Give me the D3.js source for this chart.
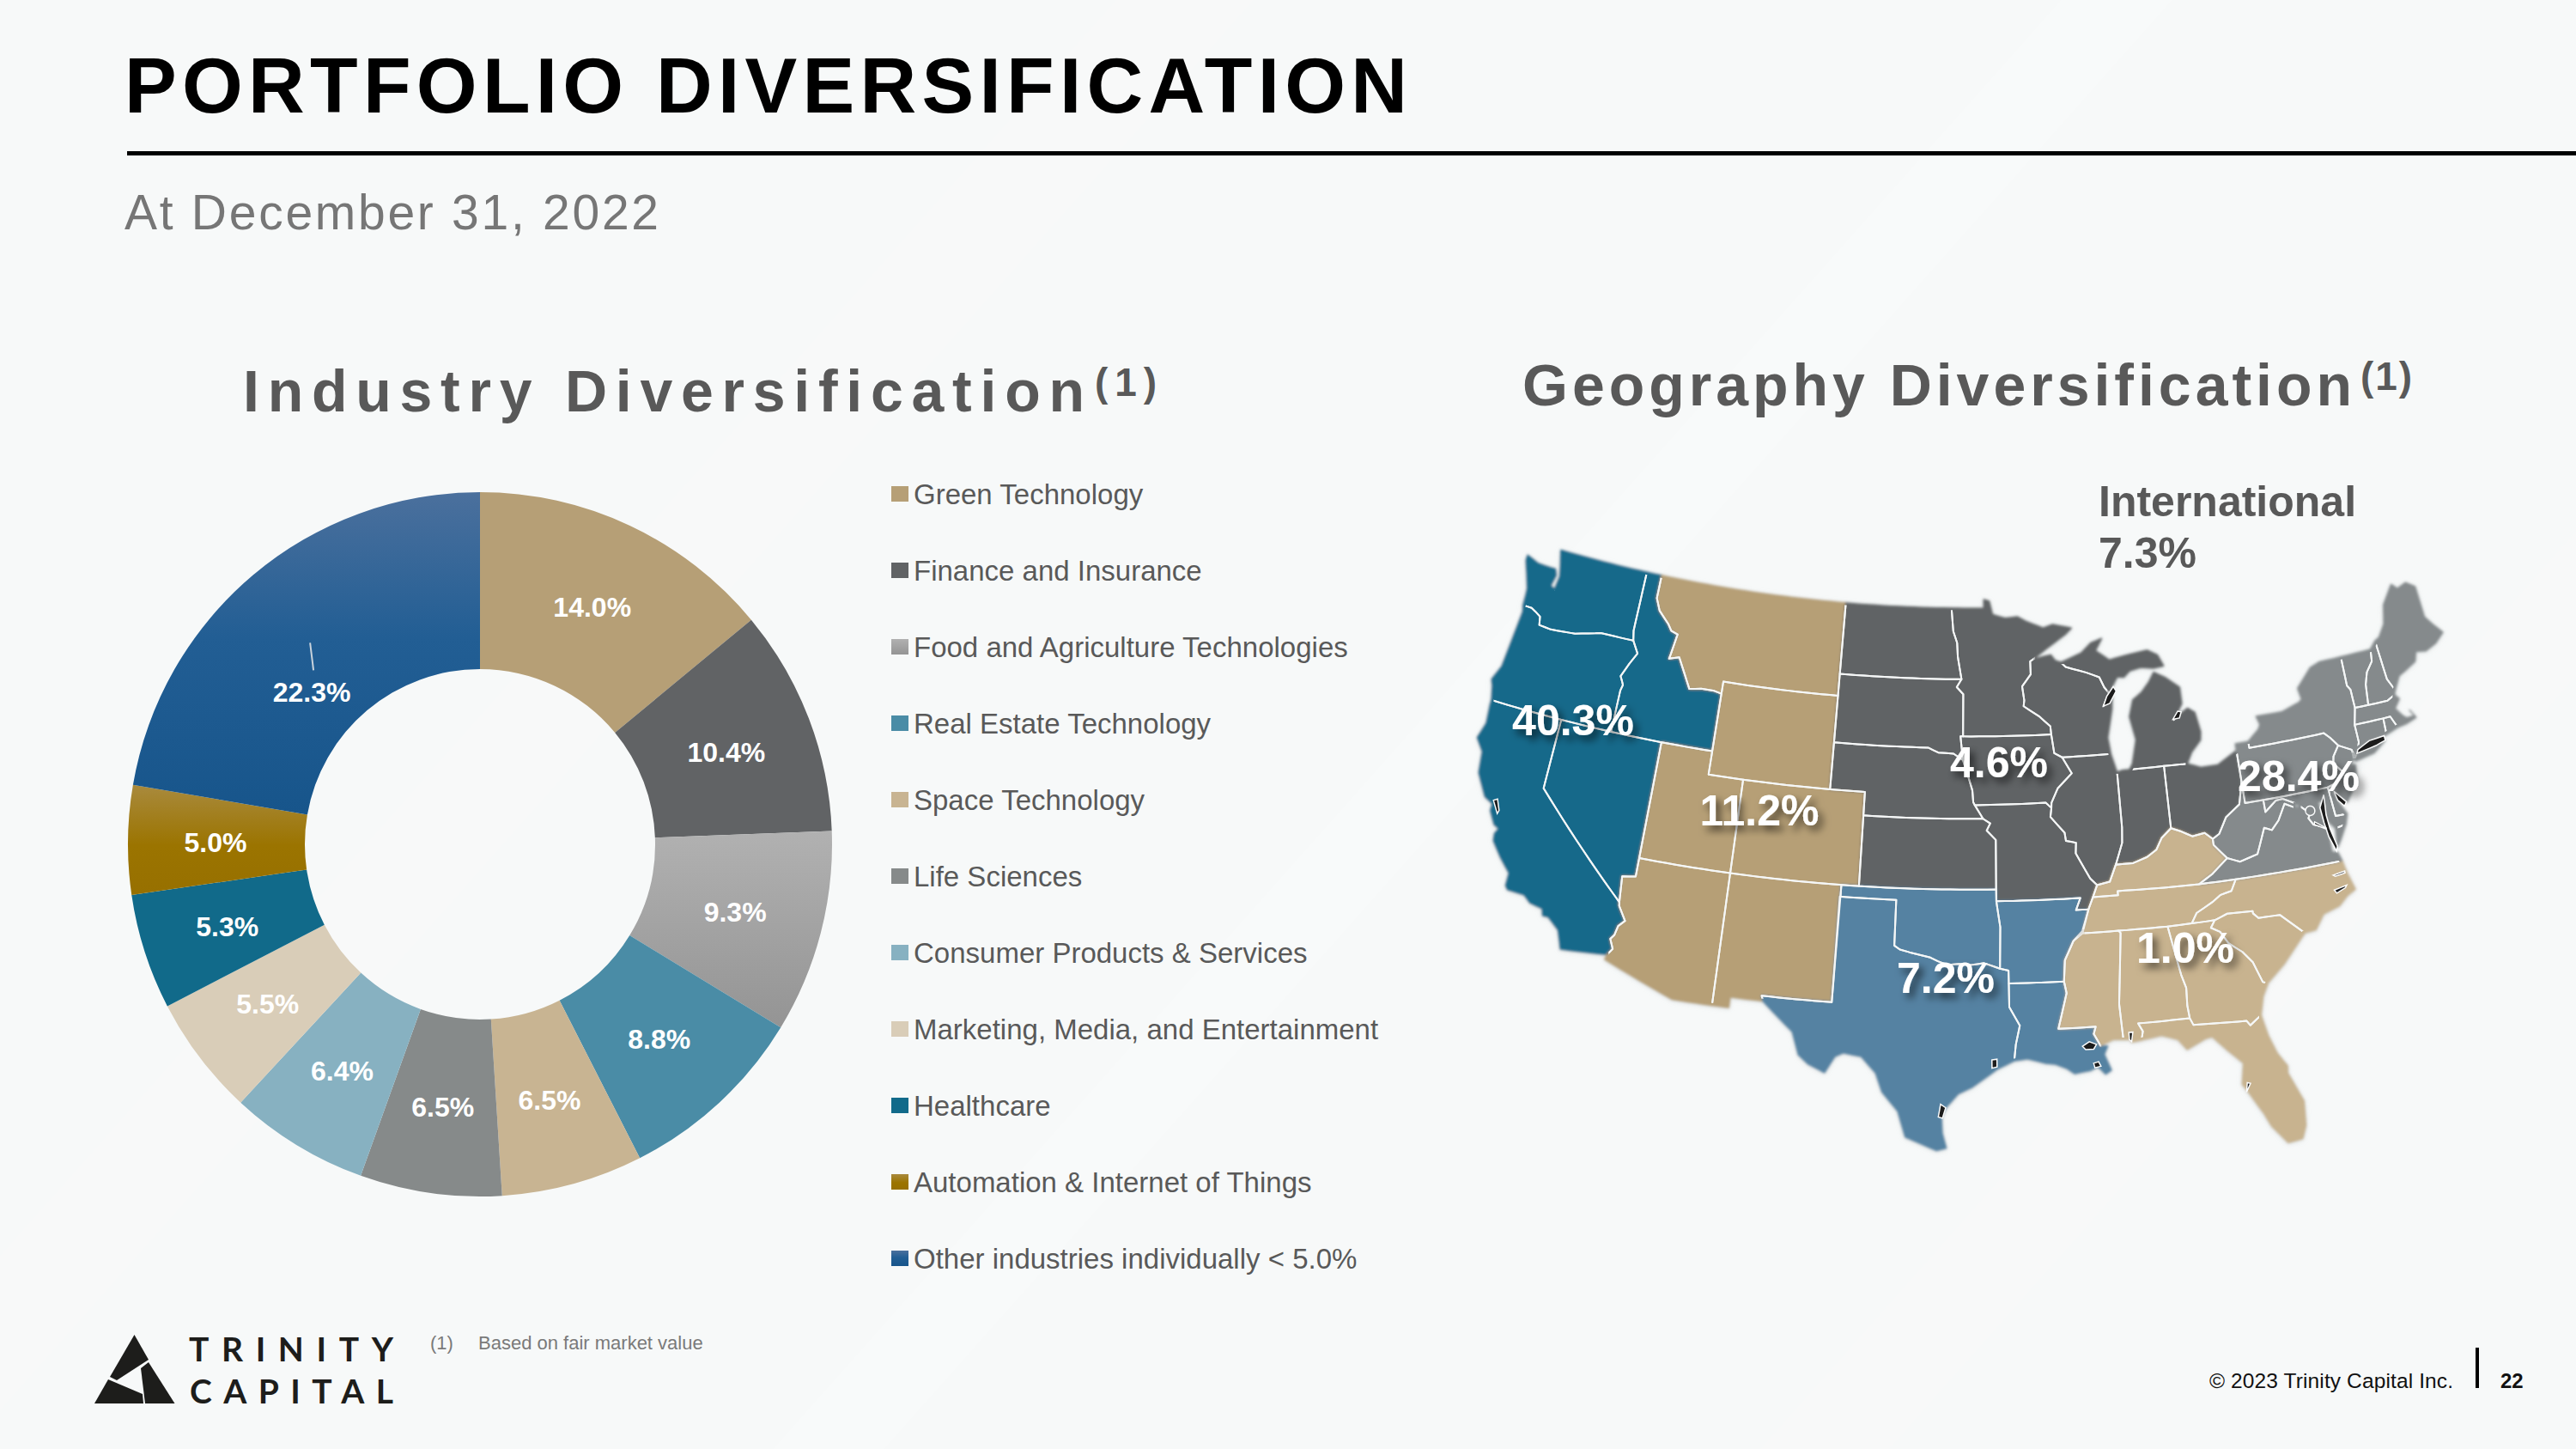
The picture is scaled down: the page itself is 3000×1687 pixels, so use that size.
<!DOCTYPE html>
<html>
<head>
<meta charset="utf-8">
<title>Portfolio Diversification</title>
<script src="https://cdn.jsdelivr.net/npm/d3@7/dist/d3.min.js"></script>
<style>
  html, body { margin: 0; padding: 0; background: #f7f9f9; }
  svg { display: block; font-family: "Liberation Sans", Arial, sans-serif; }
</style>
</head>
<body>
<svg id="slide" width="3000" height="1687"></svg>
<script>
// ---------- Industry breakdown ----------
const industries = ["Green Technology", "Finance and Insurance", "Food and Agriculture Technologies",
  "Real Estate Technology", "Space Technology", "Life Sciences", "Consumer Products & Services",
  "Marketing, Media, and Entertainment", "Healthcare", "Automation & Internet of Things",
  "Other industries individually < 5.0%"];
const industryShares = [14.0, 10.4, 9.3, 8.8, 6.5, 6.5, 6.4, 5.5, 5.3, 5.0, 22.3];
const industryColors = ["#b69f76", "#616365", "url(#fadeGrey)", "#4a8ca6", "#c8b492", "#868a8a",
  "#87b1c1", "#d9cdb8", "#116a8a", "url(#fadeOchre)", "url(#fadeBlue)"];
// Hand placement of a few slice labels, relative to the ring's centre line
const labelNudgeX = [0, 0, 0, 0, 0, 0, -1, -3, -2, -1, 2];
const labelNudgeY = [0, 0, 0, 0, 0, 0, 0, -2, 0, 0, 56];

// ---------- Geography breakdown ----------
const regionNames = ["West", "Mountain", "Midwest", "South Central", "Southeast", "Northeast"];
const regionShares = [40.3, 11.2, 4.6, 7.2, 1.0, 28.4];
const regionColors = ["#17698a", "#b69f76", "#616365", "#5482a2", "#c8b38f", "#858a8c"];
const regionStates = [
  ["WA", "OR", "CA", "ID", "NV"],
  ["MT", "WY", "UT", "CO", "AZ", "NM"],
  ["ND", "SD", "NE", "KS", "MN", "IA", "MO", "WI", "IL", "MI", "UP", "IN", "OH"],
  ["TX", "OK", "AR", "LA"],
  ["KY", "TN", "MS", "AL", "GA", "FL", "SC", "NC"],
  ["PA", "NY", "LI", "VT", "NH", "ME", "MA", "CT", "RI", "NJ", "DE", "MD", "VA", "ES", "WV"]
];
// Centre and baseline of each regional percentage on the slide
const regionLabelX = [1832, 2049, 2328, 2266, 2545, 2677];
const regionLabelY = [856, 961, 905, 1156, 1121, 921];
const internationalShare = 7.3;

// State outlines, longitude latitude pairs
const stateOutlines = {
  WA: "-124.7 48.38,-123.9 48.17,-123.1 48.15,-122.75 48.15,-122.6 47.9,-122.75 47.4,-122.45 47.3,-122.35 47.9,-122.5 48.35,-122.75 49,-117.03 49,-117.04 46.42,-116.92 46,-118.98 46,-119.3 45.93,-120.5 45.7,-121.2 45.65,-122 45.6,-122.75 45.65,-122.85 46,-123.2 46.15,-123.5 46.26,-124.05 46.27,-124.07 46.7,-124.1 47,-124.4 47.6,-124.7 48.15",
  OR: "-124.05 46.27,-123.5 46.26,-123.2 46.15,-122.85 46,-122.75 45.65,-122 45.6,-121.2 45.65,-120.5 45.7,-119.3 45.93,-118.98 46,-116.92 46,-116.5 45.5,-116.85 45,-117.2 44.4,-117.05 44.2,-116.95 44.05,-117.03 43.8,-117.03 42,-124.2 42,-124.4 42.6,-124.55 42.85,-124.2 43.5,-124.1 44.5,-124 45.5,-123.95 46",
  CA: "-124.2 42,-120 42,-120 39,-114.63 35,-114.6 34.85,-114.15 34.27,-114.45 34,-114.55 33.6,-114.72 33.4,-114.5 33,-114.72 32.72,-117.12 32.53,-117.25 32.85,-117.45 33.3,-118.1 33.75,-118.4 33.75,-118.5 34.03,-119.2 34.15,-119.6 34.42,-120.5 34.45,-120.65 34.6,-120.65 35.15,-121.3 35.7,-121.9 36.3,-121.95 36.6,-121.8 36.85,-122.1 36.97,-122.5 37.5,-122.5 37.8,-123 38,-123.7 38.9,-123.85 39.8,-124.35 40.3,-124.1 41,-124.2 41.8",
  NV: "-120 42,-114.04 42,-114.04 36.2,-114.75 36.1,-114.63 35,-120 39",
  ID: "-117.03 49,-116.05 49,-116.05 48,-115.72 47.5,-115 47,-114.75 46.75,-114.32 46.65,-114.5 45.75,-114.55 45.56,-113.95 45.7,-113.45 45.05,-113 44.45,-112.3 44.55,-111.5 44.55,-111.05 44.48,-111.05 42,-117.03 42,-117.03 43.8,-116.95 44.05,-117.05 44.2,-117.2 44.4,-116.85 45,-116.5 45.5,-116.92 46,-117.04 46.42",
  MT: "-116.05 49,-104.05 49,-104.05 45,-111.05 45,-111.05 44.48,-111.5 44.55,-112.3 44.55,-113 44.45,-113.45 45.05,-113.95 45.7,-114.55 45.56,-114.5 45.75,-114.32 46.65,-114.75 46.75,-115 47,-115.72 47.5,-116.05 48",
  WY: "-111.05 45,-104.05 45,-104.05 41,-111.05 41",
  UT: "-114.04 42,-111.05 42,-111.05 41,-109.05 41,-109.05 37,-114.04 37",
  CO: "-109.05 41,-102.05 41,-102.05 37,-109.05 37",
  AZ: "-114.04 37,-109.05 37,-109.05 31.33,-111.07 31.33,-114.8 32.5,-114.72 32.72,-114.5 33,-114.72 33.4,-114.55 33.6,-114.45 34,-114.15 34.27,-114.6 34.85,-114.63 35,-114.75 36.1,-114.04 36.2",
  NM: "-109.05 37,-103 37,-103.05 32,-106.62 32,-106.53 31.78,-108.2 31.78,-108.2 31.33,-109.05 31.33",
  ND: "-104.05 49,-97.23 49,-97.1 48,-96.85 47.5,-96.8 46.9,-96.56 45.94,-104.05 45.94",
  SD: "-104.05 45.94,-96.56 45.94,-96.85 45.6,-96.45 45.3,-96.45 43.5,-96.6 43.5,-96.45 42.49,-97 42.76,-97.9 42.8,-98.5 43,-104.05 43",
  NE: "-104.05 43,-98.5 43,-97.9 42.8,-97 42.76,-96.45 42.49,-96.1 41.7,-95.9 41.2,-95.85 40.7,-95.3 40,-102.05 40,-102.05 41,-104.05 41",
  KS: "-102.05 40,-95.3 40,-94.9 39.8,-95.1 39.5,-94.6 39.1,-94.62 37,-102.05 37",
  OK: "-103 37,-94.62 37,-94.62 36.5,-94.43 35.4,-94.48 33.64,-95.3 33.88,-96 33.8,-96.6 33.85,-97.2 33.8,-97.7 33.95,-98.1 34.1,-99.2 34.3,-99.7 34.4,-100 34.56,-100 36.5,-103 36.5",
  TX: "-103.04 36.5,-100 36.5,-100 34.56,-99.7 34.4,-99.2 34.3,-98.1 34.1,-97.7 33.95,-97.2 33.8,-96.6 33.85,-96 33.8,-95.3 33.88,-94.48 33.64,-94.04 33.55,-94.04 33,-94.04 32,-93.53 31.2,-93.75 30.4,-93.85 29.7,-94.7 29.35,-95.1 29.1,-95.9 28.6,-96.6 28.3,-97.2 27.7,-97.4 27.3,-97.35 26.6,-97.15 25.96,-97.6 25.85,-98.2 26.07,-99.1 26.4,-99.5 27.5,-100.3 28.3,-100.65 29.1,-101.4 29.77,-102.3 29.88,-102.7 29.7,-103.15 28.98,-104 29.3,-104.5 29.65,-104.9 30.6,-106.53 31.78,-106.62 32,-103.05 32",
  MN: "-97.23 49,-95.15 49,-95.15 49.38,-94.8 49.3,-94.6 48.72,-93.8 48.55,-93 48.6,-92.5 48.4,-91.4 48.07,-90.8 48.2,-89.6 48,-90 47.75,-91.2 47.2,-92.1 46.75,-92.3 46.66,-92.3 46.1,-92.85 45.6,-92.75 45,-92.8 44.75,-91.9 44.3,-91.25 43.85,-91.22 43.5,-96.45 43.5,-96.45 45.3,-96.85 45.6,-96.56 45.94,-96.8 46.9,-96.85 47.5,-97.1 48",
  IA: "-96.45 43.5,-91.22 43.5,-91.1 42.7,-90.65 42.5,-90.15 41.8,-91 41.2,-91.4 40.6,-91.42 40.38,-91.73 40.61,-95.77 40.58,-95.85 40.7,-95.9 41.2,-96.1 41.7,-96.45 42.49,-96.6 43.5",
  MO: "-95.77 40.58,-91.73 40.61,-91.42 40.38,-91.5 40,-90.75 39.3,-90.7 38.95,-90.15 38.85,-90.2 38.4,-89.5 37.3,-89.15 37,-89.42 36.5,-89.7 36,-90.37 36,-90.1 36.5,-94.62 36.5,-94.62 37,-94.6 39.1,-95.1 39.5,-94.9 39.8,-95.3 40",
  AR: "-94.62 36.5,-90.1 36.5,-90.37 36,-89.7 36,-90.1 35.1,-90.6 34.7,-91.1 33.9,-91.2 33,-94.04 33,-94.04 33.55,-94.48 33.64,-94.43 35.4",
  LA: "-94.04 33,-91.2 33,-91.1 32.5,-91.6 31,-89.73 31,-89.85 30.7,-89.55 30.18,-89.2 30.15,-89.4 29.8,-89.1 29.1,-89.4 28.95,-89.75 29.3,-90.1 29.15,-90.9 29.05,-91.3 29.3,-91.85 29.5,-92.3 29.55,-93.2 29.77,-93.85 29.7,-93.75 30.4,-93.53 31.2,-94.04 32",
  MS: "-90.1 35,-88.2 35,-88.1 34.9,-88.47 31.9,-88.4 30.37,-88.9 30.4,-89.55 30.18,-89.85 30.7,-89.73 31,-91.6 31,-91.1 32.5,-91.2 33,-91.1 33.9,-90.6 34.7",
  AL: "-88.2 35,-85.6 34.98,-85.18 32.87,-85 32.3,-85.05 31.55,-85 31,-87.6 31,-87.4 30.65,-87.5 30.28,-88 30.23,-87.95 30.65,-88.1 30.35,-88.4 30.37,-88.47 31.9,-88.1 34.9",
  GA: "-85.6 34.98,-84.32 34.99,-83.1 35,-83.35 34.7,-82.9 34.48,-82.55 33.95,-81.9 33.5,-81.45 33,-81.1 32.1,-80.85 32.03,-81.2 31.5,-81.45 30.72,-82.05 30.36,-82.2 30.57,-84.86 30.7,-85 31,-85.05 31.55,-85 32.3,-85.18 32.87",
  FL: "-87.6 31,-85 31,-84.86 30.7,-82.2 30.57,-82.05 30.36,-81.45 30.72,-81.25 29.8,-80.95 29,-80.55 28.4,-80.6 28.1,-80.05 26.8,-80.15 25.75,-80.4 25.2,-81.1 25.13,-81.75 25.95,-82 26.5,-82.7 27.7,-82.85 27.9,-82.65 28.8,-83.4 29.5,-84 30.1,-84.35 30.05,-85.3 29.68,-85.7 30.15,-86.5 30.4,-87.5 30.28,-87.4 30.65",
  SC: "-83.35 34.7,-83.1 35,-82.4 35.2,-81.05 35.15,-81.05 35.05,-80.8 34.82,-79.67 34.8,-78.55 33.86,-79.1 33.4,-79.9 32.7,-80.85 32.03,-81.1 32.1,-81.45 33,-81.9 33.5,-82.55 33.95,-82.9 34.48",
  NC: "-84.32 34.99,-83.1 35,-82.4 35.2,-81.05 35.15,-81.05 35.05,-80.8 34.82,-79.67 34.8,-78.55 33.86,-77.95 33.9,-77.4 34.5,-76.5 34.7,-76 35.05,-75.5 35.25,-75.75 36,-75.87 36.55,-81.68 36.59,-82 36.13,-82.6 36.03,-83.1 35.77,-84 35.4",
  TN: "-90.1 35,-88.2 35,-85.6 34.98,-84.32 34.99,-84 35.4,-83.1 35.77,-82.6 36.03,-82 36.13,-81.68 36.59,-83.68 36.6,-86.5 36.65,-88.07 36.68,-88.07 36.5,-89.42 36.5,-89.7 36",
  KY: "-89.42 36.5,-88.07 36.5,-88.07 36.68,-86.5 36.65,-83.68 36.6,-82.9 36.95,-81.97 37.53,-82.6 38.17,-82.6 38.42,-83 38.72,-83.7 38.65,-84.25 38.9,-84.82 39.1,-85.4 38.73,-85.75 38.27,-86.3 38,-87.1 37.8,-88.05 37.8,-88.45 37.1,-89.15 37",
  IL: "-90.65 42.5,-87.8 42.5,-87.55 41.75,-87.53 41.7,-87.53 39.35,-87.6 38.7,-88.05 37.8,-88.45 37.1,-89.15 37,-89.5 37.3,-90.2 38.4,-90.15 38.85,-90.7 38.95,-90.75 39.3,-91.5 40,-91.42 40.38,-91.4 40.6,-91 41.2,-90.15 41.8",
  IN: "-87.53 41.7,-87.2 41.76,-86.8 41.76,-84.8 41.76,-84.82 39.1,-85.4 38.73,-85.75 38.27,-86.3 38,-87.1 37.8,-88.05 37.8,-87.6 38.7,-87.53 39.35",
  OH: "-84.8 41.76,-83.45 41.73,-82.7 41.5,-81.7 41.5,-80.52 41.98,-80.52 40.64,-80.85 39.7,-81.7 39.25,-82.2 38.6,-82.6 38.42,-83 38.72,-83.7 38.65,-84.25 38.9,-84.82 39.1",
  MI: "-86.8 41.76,-84.8 41.76,-83.45 41.73,-83.1 42.2,-82.5 42.65,-82.42 43,-82.6 43.85,-83 44.07,-83.4 43.9,-83.9 43.65,-83.3 44.3,-83.3 45,-84.1 45.5,-84.75 45.78,-85.1 45.4,-85.6 45,-86.2 44.7,-86.5 44,-86.25 43,-86.6 42",
  UP: "-90.4 46.55,-89.1 46.9,-88.45 47.3,-87.75 47.45,-88.2 46.95,-87.4 46.5,-86.2 46.65,-85 46.75,-84.4 46.5,-84.1 46,-84.7 45.95,-85.5 46.05,-86.2 45.95,-86.6 45.7,-87 45.75,-87.6 45.1,-87.85 45.35,-88.1 45.8,-88.9 46.05,-90.12 46.34",
  WI: "-92.1 46.75,-91 46.9,-90.75 46.65,-90.4 46.55,-90.12 46.34,-88.9 46.05,-88.1 45.8,-87.85 45.35,-87.6 45.1,-88 44.55,-87.4 45.2,-87.5 44.4,-87.9 43.2,-87.8 42.5,-90.65 42.5,-91.1 42.7,-91.22 43.5,-91.25 43.85,-91.9 44.3,-92.8 44.75,-92.75 45,-92.85 45.6,-92.3 46.1,-92.3 46.66",
  PA: "-80.52 42.27,-79.76 42.27,-79.76 42,-75.35 42,-75.05 41.75,-74.7 41.36,-75.1 40.95,-75.2 40.65,-74.75 40.2,-75.4 39.8,-75.79 39.72,-80.52 39.72",
  NY: "-79.76 42.27,-79.05 42.7,-78.9 42.9,-79.05 43.27,-77.5 43.25,-76.4 43.5,-76.2 43.6,-76.3 44.1,-75.3 44.85,-74.7 45,-73.35 45,-73.4 43.75,-73.25 43.55,-73.25 42.75,-73.5 42.05,-73.5 41.3,-73.65 41,-73.9 40.8,-74 41.05,-74.7 41.36,-75.05 41.75,-75.35 42,-79.76 42",
  LI: "-74 40.6,-73.75 40.85,-72.6 40.98,-72 41.1,-72.8 40.7,-73.9 40.55",
  VT: "-73.35 45,-71.5 45,-71.6 44.5,-72.05 44.1,-72.3 43.6,-72.45 42.73,-73.25 42.75,-73.25 43.55,-73.4 43.75",
  NH: "-71.5 45,-71.1 45.3,-71 43.6,-70.7 43.05,-70.82 42.87,-71.3 42.7,-72.45 42.73,-72.3 43.6,-72.05 44.1,-71.6 44.5",
  ME: "-71.1 45.3,-70.8 45.4,-70.3 45.9,-70 46.7,-69.2 47.45,-68.9 47.2,-68.3 47.35,-67.8 47.07,-67.8 45.7,-67.45 45.3,-67 44.85,-67.6 44.5,-68.3 44.3,-68.9 44.4,-69.1 44,-69.8 43.75,-70.25 43.6,-70.7 43.05,-71 43.6",
  MA: "-73.5 42.05,-73.25 42.75,-72.45 42.73,-71.3 42.7,-70.82 42.87,-70.6 42.65,-71 42.3,-70.7 41.95,-70.5 41.78,-70 41.78,-70.2 42.07,-69.95 41.7,-70.6 41.55,-71.12 41.5,-71.38 42.02,-71.8 42.02",
  RI: "-71.8 42.02,-71.38 42.02,-71.12 41.5,-71.85 41.32",
  CT: "-73.5 42.05,-71.8 42.02,-71.85 41.32,-72.9 41.25,-73.65 41,-73.5 41.3",
  NJ: "-74.7 41.36,-74 41.05,-74 40.7,-74.25 40.45,-74 40.4,-74.1 39.75,-74.9 38.93,-75.5 39.5,-75.4 39.8,-74.75 40.2,-75.2 40.65,-75.1 40.95",
  DE: "-75.79 39.72,-75.4 39.8,-75.6 39.45,-75.4 39.05,-75.05 38.45,-75.7 38.46",
  MD: "-79.48 39.72,-75.79 39.72,-75.7 38.46,-75.05 38.45,-75.25 38.03,-75.85 37.95,-76.2 38.35,-76.2 39.2,-76.5 39.2,-76.4 38.3,-76.3 38.05,-77 38.3,-77.2 38.6,-77.05 38.8,-77.5 39.15,-77.75 39.33,-78.4 39.62,-78.8 39.6,-79.48 39.2",
  VA: "-83.68 36.6,-81.68 36.59,-75.87 36.55,-76 36.93,-76.3 37,-76.3 37.6,-76.3 38.05,-77 38.3,-77.2 38.6,-77.05 38.8,-77.5 39.15,-77.8 39.15,-78.35 39.4,-78.85 38.75,-79.3 38.4,-79.7 38.55,-80.3 37.5,-81.3 37.3,-81.97 37.53,-82.9 36.95",
  ES: "-75.25 38.03,-75.85 37.95,-75.95 37.15,-75.65 37.5",
  WV: "-80.52 40.64,-80.52 39.72,-79.48 39.72,-79.48 39.2,-78.8 39.6,-78.4 39.62,-77.75 39.33,-77.8 39.15,-78.35 39.4,-78.85 38.75,-79.3 38.4,-79.7 38.55,-80.3 37.5,-81.3 37.3,-81.97 37.53,-82.6 38.17,-82.6 38.42,-82.2 38.6,-81.7 39.25,-80.85 39.7"
};

// Enclosed bays and lakes, painted dark over the land
const waterOutlines = [
  "-88 44.55,-87.75 44.95,-87.3 45.35,-87.15 45.15,-87.6 44.65",
  "-83.95 43.68,-83.6 44,-83.4 43.95,-83.55 43.7",
  "-76.1 39.45,-76.45 38.95,-76.4 38.3,-76.3 37.65,-76.05 37,-75.95 37.2,-76.15 38,-76.2 38.6",
  "-76.95 38.3,-76.35 38,-76.35 38.05,-76.9 38.4",
  "-73.75 40.85,-73.65 41,-72.9 41.25,-72 41.3,-72 41.1,-72.6 40.98",
  "-75.5 39.5,-74.95 38.95,-75.1 38.8,-75.4 39.1",
  "-90.45 30.2,-90.1 30.38,-89.75 30.25,-89.9 30.05,-90.3 30.05",
  "-88 30.25,-87.9 30.65,-88.1 30.65,-88.1 30.35",
  "-76.5 36.03,-75.85 36.1,-75.85 36.02,-76.4 35.97",
  "-76.6 35.4,-75.9 35.5,-76 35.4,-76.5 35.25",
  "-122.5 37.95,-122.1 37.45,-122.05 37.6,-122.3 38.05",
  "-82.6 27.95,-82.45 27.9,-82.7 27.55",
  "-94.95 29.75,-94.7 29.78,-94.7 29.45,-94.95 29.4",
  "-97.45 27.85,-97.2 27.7,-97.35 27.25,-97.55 27.3",
  "-89.95 29.45,-89.7 29.5,-89.6 29.3,-89.9 29.25"
];

const svg = d3.select("#slide");
const defs = svg.append("defs");

// Vertical fades used by three of the slices
function addFade(id, stops) {
  const g = defs.append("linearGradient").attr("id", id).attr("x1", 0).attr("y1", 0).attr("x2", 0).attr("y2", 1);
  stops.forEach(([o, c]) => g.append("stop").attr("offset", o).attr("stop-color", c));
}
addFade("fadeBlue", [[0, "#4b709d"], [0.45, "#225e94"], [1, "#17558b"]]);
addFade("fadeOchre", [[0, "#a98a3d"], [0.55, "#9b7400"], [1, "#977000"]]);
addFade("fadeGrey", [[0, "#b1b1b1"], [1, "#949494"]]);

const labelShadow = defs.append("filter").attr("id", "labelShadow")
  .attr("x", "-20%").attr("y", "-30%").attr("width", "150%").attr("height", "170%");
labelShadow.append("feDropShadow").attr("dx", 5).attr("dy", 6).attr("stdDeviation", 5)
  .attr("flood-color", "#000").attr("flood-opacity", 0.6);
// Feathered land edge with a faint halo
const mapSoft = defs.append("filter").attr("id", "mapSoft")
  .attr("x", "-5%").attr("y", "-5%").attr("width", "110%").attr("height", "110%");
mapSoft.append("feGaussianBlur").attr("in", "SourceGraphic").attr("stdDeviation", 1.6).attr("result", "soft");
mapSoft.append("feDropShadow").attr("in", "soft").attr("dx", 0).attr("dy", 1).attr("stdDeviation", 2.5)
  .attr("flood-color", "#aab2b5").attr("flood-opacity", 0.4);
// Shrinks the land silhouette so state lines stop short of the coast
const shrink = defs.append("filter").attr("id", "shrink").attr("filterUnits", "userSpaceOnUse")
  .attr("x", 1600).attr("y", 500).attr("width", 1400).attr("height", 1000);
shrink.append("feMorphology").attr("operator", "erode").attr("radius", 3);

// Faint diagonal sheen across the slide background
const sheen = svg.append("g").attr("fill", "#ffffff");
[[-200, 160, 0.14], [350, 220, 0.1], [900, 130, 0.15], [1450, 260, 0.1], [2050, 150, 0.14], [2600, 240, 0.1], [3200, 170, 0.13]]
  .forEach(([x, w, o]) => {
    sheen.append("path").attr("opacity", o)
      .attr("d", `M${x},1687 L${x + w},1687 L${x + w + 1500},0 L${x + 1500},0 Z`);
  });

// Headline block
function addText(str, x, y, size, weight, fill, opts = {}) {
  const t = svg.append("text").attr("x", x).attr("y", y).attr("font-size", size)
    .attr("font-weight", weight).attr("fill", fill).text(str);
  if (opts.fit) t.attr("textLength", opts.fit).attr("lengthAdjust", "spacing");
  if (opts.family) t.attr("font-family", opts.family);
  return t;
}
addText("PORTFOLIO DIVERSIFICATION", 145, 131, 91, 700, "#000", { fit: 1494 });
svg.append("rect").attr("x", 148).attr("y", 176).attr("width", 2852).attr("height", 5).attr("fill", "#000");
addText("At December 31, 2022", 145, 267, 57, 400, "#767676", { fit: 622 });

addText("Industry Diversification", 283, 479, 68, 700, "#595959", { fit: 980 });
addText("(1)", 1275, 461, 46, 700, "#595959", { fit: 72 });
addText("Geography Diversification", 1773, 472, 68, 700, "#595959", { fit: 966 });
addText("(1)", 2749, 454, 46, 700, "#595959", { fit: 60 });

// ---------- Donut ----------
const donutX = 559, donutY = 983, outerR = 410, innerR = 204;
const pie = d3.pie().sort(null).value(d => d)(industryShares);
const arc = d3.arc().innerRadius(innerR).outerRadius(outerR);
const donut = svg.append("g").attr("transform", `translate(${donutX},${donutY})`);
donut.selectAll("path").data(pie).join("path")
  .attr("d", arc).attr("fill", (d, i) => industryColors[i]);
donut.selectAll("text").data(pie).join("text")
  .attr("x", (d, i) => arc.centroid(d)[0] + labelNudgeX[i])
  .attr("y", (d, i) => arc.centroid(d)[1] + labelNudgeY[i] + 13)
  .attr("text-anchor", "middle").attr("font-size", 32).attr("font-weight", 700).attr("fill", "#fff")
  .text(d => d.value.toFixed(1) + "%");
// Leader from the largest slice's centre line down to its label
const largest = arc.centroid(pie[10]);
donut.append("line")
  .attr("x1", largest[0]).attr("y1", largest[1])
  .attr("x2", largest[0] + 4).attr("y2", largest[1] + 32)
  .attr("stroke", "#c9d3dc").attr("stroke-width", 2);

// ---------- Legend ----------
const legendY = d3.scalePoint().domain(industries).range([575, 1465]);
const legend = svg.append("g").selectAll("g").data(industries).join("g")
  .attr("transform", d => `translate(1038,${legendY(d)})`);
legend.append("rect").attr("x", 0).attr("y", -9).attr("width", 20).attr("height", 18)
  .attr("fill", (d, i) => industryColors[i]);
legend.append("text").attr("x", 26).attr("y", 12).attr("font-size", 33).attr("fill", "#595959").text(d => d);

// ---------- United States map ----------
const projection = d3.geoConicEqualArea().parallels([29.5, 45.5]).rotate([96, 0]).center([0, 37.5])
  .scale(1559).translate([2295, 1022]);

const parseRing = s => s.split(",").map(p => p.trim().split(" ").map(Number));
// Long straight borders need intermediate points so parallels stay curved
function densify(ring) {
  const out = [];
  ring.forEach((a, i) => {
    const b = ring[(i + 1) % ring.length];
    const steps = Math.ceil(Math.max(Math.abs(b[0] - a[0]), Math.abs(b[1] - a[1])) / 0.5) || 1;
    for (let k = 0; k < steps; k++) out.push([a[0] + (b[0] - a[0]) * k / steps, a[1] + (b[1] - a[1]) * k / steps]);
  });
  return out;
}
const ringPath = d3.line().x(d => d[0]).y(d => d[1]);
const shapePath = s => ringPath(densify(parseRing(s)).map(p => projection(p))) + "Z";

// Coloured land, softened along the coast
const land = svg.append("g").attr("filter", "url(#mapSoft)");
regionNames.forEach((name, r) => {
  land.append("g").attr("data-region", name).selectAll("path").data(regionStates[r]).join("path")
    .attr("d", code => shapePath(stateOutlines[code]))
    .attr("fill", regionColors[r]).attr("stroke", regionColors[r]).attr("stroke-width", 1.5)
    .attr("stroke-linejoin", "round");
});

// State lines, masked to the land interior
const allStates = regionStates.flat();
const lineMask = defs.append("mask").attr("id", "interiorOnly").attr("maskUnits", "userSpaceOnUse")
  .attr("x", 1600).attr("y", 500).attr("width", 1400).attr("height", 1000);
lineMask.append("g").attr("filter", "url(#shrink)").selectAll("path").data(allStates).join("path")
  .attr("d", code => shapePath(stateOutlines[code]))
  .attr("fill", "#fff").attr("stroke", "#fff").attr("stroke-width", 1.5);
const borders = svg.append("g").attr("mask", "url(#interiorOnly)");
borders.selectAll("path").data(allStates).join("path")
  .attr("d", code => shapePath(stateOutlines[code]))
  .attr("fill", "none").attr("stroke", "#f5f7f7").attr("stroke-width", 2).attr("stroke-linejoin", "round");

// Bays, lakes and the District of Columbia ring
svg.append("g").selectAll("path").data(waterOutlines).join("path")
  .attr("d", shapePath).attr("fill", "#1c1c1c").attr("stroke", "#fbfcfc").attr("stroke-width", 1.5);
const districtRing = d3.geoCircle().center([-77.02, 38.9]).radius(0.2)().coordinates[0];
svg.append("path").attr("d", ringPath(districtRing.map(p => projection(p))) + "Z")
  .attr("fill", "#858a8c").attr("stroke", "#fbfcfc").attr("stroke-width", 1.5);

svg.append("g").selectAll("text").data(regionShares).join("text")
  .attr("x", (d, i) => regionLabelX[i])
  .attr("y", (d, i) => regionLabelY[i])
  .attr("text-anchor", "middle").attr("font-size", 50).attr("font-weight", 700)
  .attr("fill", "#fff").attr("filter", "url(#labelShadow)")
  .text(d => d.toFixed(1) + "%");

addText("International", 2444, 601, 50, 700, "#595959");
addText(internationalShare.toFixed(1) + "%", 2444, 661, 50, 700, "#595959");

// ---------- Brand mark and footer ----------
const brand = svg.append("g").attr("fill", "#1d1d1b");
brand.append("polygon").attr("points", "156.5,1554 173,1583 136,1607 128,1603");
brand.append("polygon").attr("points", "126,1606 166,1623 167,1634 110,1634");
brand.append("polygon").attr("points", "173,1586 203.5,1634 169,1634 164,1593");
addText("TRINITY", 220, 1585, 39, 700, "#1d1d1b", { fit: 238, family: "Lato" });
addText("CAPITAL", 221, 1634, 39, 700, "#1d1d1b", { fit: 237, family: "Lato" });

addText("(1)", 501, 1571, 22, 400, "#7a7a7a");
addText("Based on fair market value", 557, 1571, 22, 400, "#7a7a7a");
addText("© 2023 Trinity Capital Inc.", 2573, 1616, 24.5, 400, "#111", { fit: 284 });
svg.append("rect").attr("x", 2883).attr("y", 1569).attr("width", 4).attr("height", 47).attr("fill", "#000");
addText("22", 2912, 1616, 24, 700, "#111");
</script>
</body>
</html>
